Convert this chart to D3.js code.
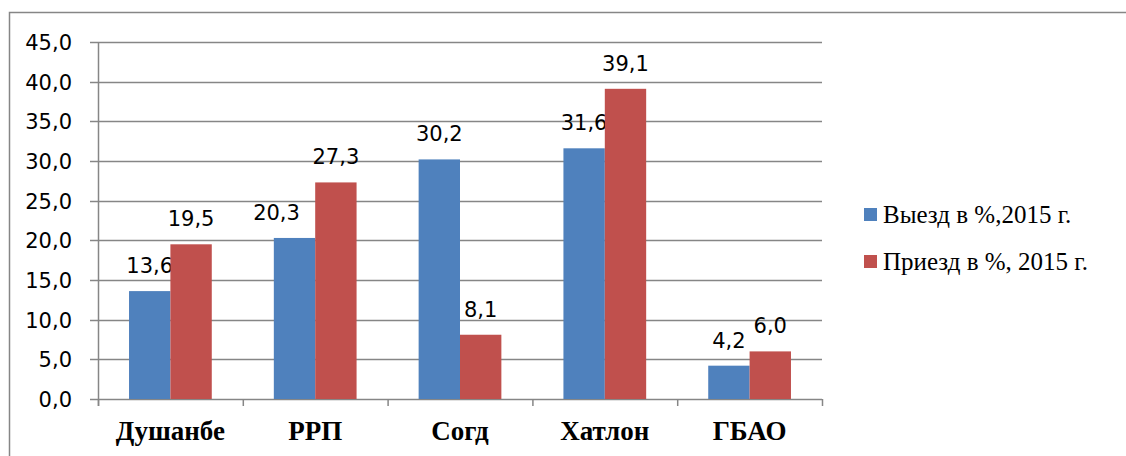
<!DOCTYPE html>
<html lang="ru">
<head>
<meta charset="UTF-8">
<title>Выезд и приезд по регионам, 2015 г.</title>
<script src="https://d3js.org/d3.v7.min.js"></script>
<style>
body { margin: 0; background: #fff; overflow: hidden; }
.val, .ytick text { font-family: "DejaVu Sans", Verdana, sans-serif; font-size: 21px; fill: #000; }
.cat { font-family: "Liberation Serif", "Times New Roman", serif; font-weight: bold; font-size: 27px; }
.legend text { font-family: "Liberation Serif", "Times New Roman", serif; font-size: 25px; }
</style>
</head>
<body>
<svg width="1126" height="456"></svg>
<script>
// values
const regions = ['Душанбе', 'РРП', 'Согд', 'Хатлон', 'ГБАО'];
const departures = [13.6, 20.3, 30.2, 31.6, 4.2];
const arrivals = [19.5, 27.3, 8.1, 39.1, 6.0];
const seriesNames = ['Выезд в %,2015 г.', 'Приезд в %, 2015 г.'];
const seriesColors = ['#4f81bd', '#c0504d'];
const yTicks = [0, 5, 10, 15, 20, 25, 30, 35, 40, 45];

const svg = d3.select('svg');
const fmt = v => v.toFixed(1).replace('.', ',');

// outer frame (right and bottom edges fall outside the picture)
svg.append('rect')
  .attr('x', 9.5).attr('y', 12.5)
  .attr('width', 1200).attr('height', 500)
  .attr('fill', 'none').attr('stroke', '#868686').attr('stroke-width', 1.5);

const plotL = 98, plotR = 822, plotT = 42, plotB = 399;

const x = d3.scaleBand().domain(regions).range([plotL, plotR]);
const y = d3.scaleLinear().domain([0, 45]).range([plotB, plotT]);
// two bars per group, gap width 150%
const inner = d3.scaleBand().domain([0, 1])
  .range([0, x.bandwidth()]).paddingOuter(0.75).paddingInner(0);

// gridlines + y ticks
const yg = svg.append('g').attr('class', 'ytick');
yg.selectAll('line').data(yTicks).join('line')
  .attr('x1', plotL - 8).attr('x2', plotR)
  .attr('y1', d => Math.round(y(d)) + 0.5).attr('y2', d => Math.round(y(d)) + 0.5)
  .attr('stroke', '#868686').attr('stroke-width', 1.5);
yg.selectAll('text').data(yTicks).join('text')
  .attr('x', plotL - 26).attr('y', d => y(d) + 8)
  .attr('text-anchor', 'end')
  .text(fmt);

// axis line and category ticks
svg.append('line')
  .attr('x1', plotL + 0.5).attr('x2', plotL + 0.5).attr('y1', plotT).attr('y2', plotB + 7)
  .attr('stroke', '#868686').attr('stroke-width', 1.5);
const catTicks = regions.map(r => x(r)).concat([plotR]);
svg.append('g').selectAll('line').data(catTicks).join('line')
  .attr('x1', d => d + 0.5).attr('x2', d => d + 0.5)
  .attr('y1', plotB).attr('y2', plotB + 7)
  .attr('stroke', '#868686').attr('stroke-width', 1.5);

// the 20,3 label was dragged a bit to the left in the original
const nudge = (s, i) => (s === 0 && i === 1 ? -18 : 0);

// bars + value labels
const series = [departures, arrivals];
series.forEach((vals, s) => {
  const g = svg.append('g');
  g.selectAll('rect').data(vals).join('rect')
    .attr('x', (d, i) => x(regions[i]) + inner(s))
    .attr('width', inner.bandwidth())
    .attr('y', d => y(d))
    .attr('height', d => plotB - y(d))
    .attr('fill', seriesColors[s]);
  g.selectAll('text').data(vals).join('text')
    .attr('class', 'val')
    .attr('x', (d, i) => x(regions[i]) + inner(s) + inner.bandwidth() / 2 + nudge(s, i))
    .attr('y', d => y(d) - 18)
    .attr('text-anchor', 'middle')
    .text(fmt);
});

// category labels
svg.append('g').selectAll('text').data(regions).join('text')
  .attr('class', 'cat')
  .attr('x', d => x(d) + x.bandwidth() / 2)
  .attr('y', 440)
  .attr('text-anchor', 'middle')
  .text(d => d);

// legend
const lg = svg.append('g').attr('class', 'legend');
seriesNames.forEach((name, i) => {
  lg.append('rect')
    .attr('x', 864).attr('y', 208 + i * 47)
    .attr('width', 13).attr('height', 13)
    .attr('fill', seriesColors[i]);
  lg.append('text')
    .attr('x', 883).attr('y', 223 + i * 47)
    .text(name);
});
</script>
</body>
</html>
